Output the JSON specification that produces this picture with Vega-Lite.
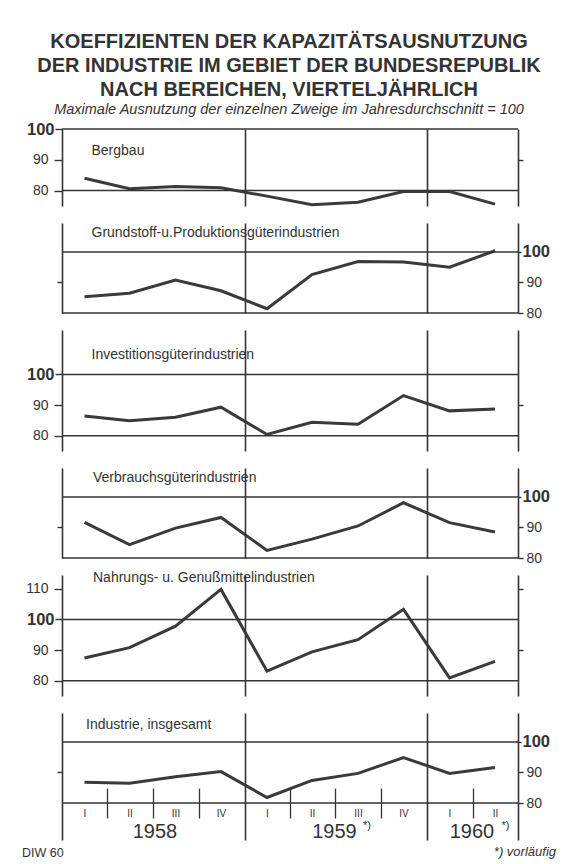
{
  "$schema": "https://vega.github.io/schema/vega-lite/v6.json",
  "background": "white",
  "padding": {"left": 22, "top": 31, "right": 5, "bottom": 2},
  "bounds": "flush",
  "spacing": 17,
  "title": {
    "text": ["KOEFFIZIENTEN DER KAPAZITÄTSAUSNUTZUNG", "DER INDUSTRIE IM GEBIET DER BUNDESREPUBLIK", "NACH BEREICHEN, VIERTELJÄHRLICH"],
    "subtitle": "Maximale Ausnutzung der einzelnen Zweige im Jahresdurchschnitt = 100",
    "anchor": "middle",
    "font": "Liberation Sans",
    "fontSize": 20,
    "fontWeight": "bold",
    "color": "#333333",
    "lineHeight": 24,
    "subtitleFont": "Liberation Sans",
    "subtitleFontStyle": "italic",
    "subtitleFontSize": 14.5,
    "subtitleColor": "#333333",
    "subtitlePadding": 3,
    "offset": 5
  },
  "config": {
    "view": {"stroke": null},
    "axis": {"domain": false, "grid": false, "labelColor": "#333333", "tickColor": "#333333", "labelFont": "Liberation Sans", "tickWidth": 1.4},
    "text": {"font": "Liberation Sans", "fontSize": 14, "color": "#333333", "align": "left", "baseline": "middle"},
    "rule": {"color": "#333333", "strokeWidth": 1.5},
    "line": {"color": "#3a3a3a", "strokeWidth": 3}
  },
  "datasets": {
    "d": [
      {"panel": "Bergbau", "date": "1958-02-15", "value": 84.0},
      {"panel": "Bergbau", "date": "1958-05-16", "value": 80.6},
      {"panel": "Bergbau", "date": "1958-08-16", "value": 81.3},
      {"panel": "Bergbau", "date": "1958-11-15", "value": 80.9},
      {"panel": "Bergbau", "date": "1959-02-15", "value": 78.2},
      {"panel": "Bergbau", "date": "1959-05-16", "value": 75.4},
      {"panel": "Bergbau", "date": "1959-08-16", "value": 76.2},
      {"panel": "Bergbau", "date": "1959-11-15", "value": 79.7},
      {"panel": "Bergbau", "date": "1960-02-15", "value": 79.7},
      {"panel": "Bergbau", "date": "1960-05-16", "value": 75.6},
      {"panel": "Grundstoff", "date": "1958-02-15", "value": 85.3},
      {"panel": "Grundstoff", "date": "1958-05-16", "value": 86.5},
      {"panel": "Grundstoff", "date": "1958-08-16", "value": 90.8},
      {"panel": "Grundstoff", "date": "1958-11-15", "value": 87.3},
      {"panel": "Grundstoff", "date": "1959-02-15", "value": 81.4},
      {"panel": "Grundstoff", "date": "1959-05-16", "value": 92.6},
      {"panel": "Grundstoff", "date": "1959-08-16", "value": 96.9},
      {"panel": "Grundstoff", "date": "1959-11-15", "value": 96.7},
      {"panel": "Grundstoff", "date": "1960-02-15", "value": 95.0},
      {"panel": "Grundstoff", "date": "1960-05-16", "value": 100.4},
      {"panel": "Investition", "date": "1958-02-15", "value": 86.4},
      {"panel": "Investition", "date": "1958-05-16", "value": 84.9},
      {"panel": "Investition", "date": "1958-08-16", "value": 86.0},
      {"panel": "Investition", "date": "1958-11-15", "value": 89.3},
      {"panel": "Investition", "date": "1959-02-15", "value": 80.4},
      {"panel": "Investition", "date": "1959-05-16", "value": 84.4},
      {"panel": "Investition", "date": "1959-08-16", "value": 83.7},
      {"panel": "Investition", "date": "1959-11-15", "value": 93.1},
      {"panel": "Investition", "date": "1960-02-15", "value": 88.1},
      {"panel": "Investition", "date": "1960-05-16", "value": 88.7},
      {"panel": "Verbrauch", "date": "1958-02-15", "value": 91.7},
      {"panel": "Verbrauch", "date": "1958-05-16", "value": 84.4},
      {"panel": "Verbrauch", "date": "1958-08-16", "value": 89.8},
      {"panel": "Verbrauch", "date": "1958-11-15", "value": 93.3},
      {"panel": "Verbrauch", "date": "1959-02-15", "value": 82.5},
      {"panel": "Verbrauch", "date": "1959-05-16", "value": 86.2},
      {"panel": "Verbrauch", "date": "1959-08-16", "value": 90.5},
      {"panel": "Verbrauch", "date": "1959-11-15", "value": 98.1},
      {"panel": "Verbrauch", "date": "1960-02-15", "value": 91.6},
      {"panel": "Verbrauch", "date": "1960-05-16", "value": 88.5},
      {"panel": "Nahrung", "date": "1958-02-15", "value": 87.4},
      {"panel": "Nahrung", "date": "1958-05-16", "value": 90.8},
      {"panel": "Nahrung", "date": "1958-08-16", "value": 97.8},
      {"panel": "Nahrung", "date": "1958-11-15", "value": 109.8},
      {"panel": "Nahrung", "date": "1959-02-15", "value": 83.1},
      {"panel": "Nahrung", "date": "1959-05-16", "value": 89.4},
      {"panel": "Nahrung", "date": "1959-08-16", "value": 93.4},
      {"panel": "Nahrung", "date": "1959-11-15", "value": 103.3},
      {"panel": "Nahrung", "date": "1960-02-15", "value": 80.9},
      {"panel": "Nahrung", "date": "1960-05-16", "value": 86.3},
      {"panel": "Industrie", "date": "1958-02-15", "value": 86.8},
      {"panel": "Industrie", "date": "1958-05-16", "value": 86.5},
      {"panel": "Industrie", "date": "1958-08-16", "value": 88.6},
      {"panel": "Industrie", "date": "1958-11-15", "value": 90.3},
      {"panel": "Industrie", "date": "1959-02-15", "value": 81.8},
      {"panel": "Industrie", "date": "1959-05-16", "value": 87.4},
      {"panel": "Industrie", "date": "1959-08-16", "value": 89.7},
      {"panel": "Industrie", "date": "1959-11-15", "value": 94.9},
      {"panel": "Industrie", "date": "1960-02-15", "value": 89.7},
      {"panel": "Industrie", "date": "1960-05-16", "value": 91.6}
    ]
  },
  "vconcat": [
    {
      "width": 456, "height": 77,
      "resolve": {"axis": {"x": "independent", "y": "independent"}},
      "layer": [
        {
          "data": {"name": "d"},
          "transform": [{"filter": "datum.panel == 'Bergbau'"}],
          "mark": "line",
          "encoding": {
            "x": {"field": "date", "type": "temporal", "scale": {"type": "utc", "domain": [{"year": 1958, "month": 1, "date": 1, "utc": true}, {"year": 1960, "month": 7, "date": 1, "utc": true}]},
                  "axis": {"title": null, "values": [{"year": 1958, "month": 1, "date": 1, "utc": true}, {"year": 1959, "month": 1, "date": 1, "utc": true}, {"year": 1960, "month": 1, "date": 1, "utc": true}, {"year": 1960, "month": 7, "date": 1, "utc": true}], "grid": true, "gridColor": "#333333", "gridWidth": 1.6, "gridOpacity": 1, "ticks": false, "labels": false, "domain": false}},
            "y": {"field": "value", "type": "quantitative", "scale": {"domain": [75, 100], "nice": false, "zero": false},
                  "axis": {"title": null, "orient": "left", "values": [80, 90], "labelFontSize": 14, "tickSize": 8, "labelPadding": 6}}
          }
        },
        {"data": {"values": [{}]}, "mark": "rule", "encoding": {"y": {"datum": 100, "axis": {"title": null, "orient": "left", "values": [100], "labelFontSize": 16.5, "labelFontWeight": "bold", "tickSize": 7, "labelPadding": 1}}}},
        {"data": {"values": [{}]}, "mark": "rule", "encoding": {"y": {"datum": 80, "axis": {"title": null, "orient": "right", "values": [90], "labels": false, "tickSize": 5}}}},
        {"data": {"values": [{}]}, "mark": {"type": "text", "text": "Bergbau"}, "encoding": {"x": {"datum": {"year": 1958, "month": 3, "date": 1, "utc": true}, "type": "temporal", "axis": null}, "y": {"datum": 92.9, "axis": null}}}
      ]
    },
    {
      "width": 456, "height": 90,
      "resolve": {"axis": {"x": "independent", "y": "independent"}},
      "layer": [
        {
          "data": {"name": "d"},
          "transform": [{"filter": "datum.panel == 'Grundstoff'"}],
          "mark": "line",
          "encoding": {
            "x": {"field": "date", "type": "temporal", "scale": {"type": "utc", "domain": [{"year": 1958, "month": 1, "date": 1, "utc": true}, {"year": 1960, "month": 7, "date": 1, "utc": true}]},
                  "axis": {"title": null, "values": [{"year": 1958, "month": 1, "date": 1, "utc": true}, {"year": 1959, "month": 1, "date": 1, "utc": true}, {"year": 1960, "month": 1, "date": 1, "utc": true}, {"year": 1960, "month": 7, "date": 1, "utc": true}], "grid": true, "gridColor": "#333333", "gridWidth": 1.6, "gridOpacity": 1, "ticks": false, "labels": false, "domain": false}},
            "y": {"field": "value", "type": "quantitative", "scale": {"domain": [80, 109.5], "nice": false, "zero": false},
                  "axis": {"title": null, "orient": "right", "values": [80, 90], "labelFontSize": 14, "tickSize": 5, "labelPadding": 3}}
          }
        },
        {"data": {"values": [{}]}, "mark": "rule", "encoding": {"y": {"datum": 100, "axis": {"title": null, "orient": "right", "values": [100], "labelFontSize": 16.5, "labelFontWeight": "bold", "tickSize": 3, "labelPadding": 1}}}},
        {"data": {"values": [{}]}, "mark": "rule", "encoding": {"y": {"datum": 80, "axis": {"title": null, "orient": "left", "values": [90], "labels": false, "tickSize": 5}}}},
        {"data": {"values": [{}]}, "mark": {"type": "text", "text": "Grundstoff-u.Produktionsgüterindustrien"}, "encoding": {"x": {"datum": {"year": 1958, "month": 3, "date": 1, "utc": true}, "type": "temporal", "axis": null}, "y": {"datum": 106.2, "axis": null}}}
      ]
    },
    {
      "width": 456, "height": 121,
      "resolve": {"axis": {"x": "independent", "y": "independent"}},
      "layer": [
        {
          "data": {"name": "d"},
          "transform": [{"filter": "datum.panel == 'Investition'"}],
          "mark": "line",
          "encoding": {
            "x": {"field": "date", "type": "temporal", "scale": {"type": "utc", "domain": [{"year": 1958, "month": 1, "date": 1, "utc": true}, {"year": 1960, "month": 7, "date": 1, "utc": true}]},
                  "axis": {"title": null, "values": [{"year": 1958, "month": 1, "date": 1, "utc": true}, {"year": 1959, "month": 1, "date": 1, "utc": true}, {"year": 1960, "month": 1, "date": 1, "utc": true}, {"year": 1960, "month": 7, "date": 1, "utc": true}], "grid": true, "gridColor": "#333333", "gridWidth": 1.6, "gridOpacity": 1, "ticks": false, "labels": false, "domain": false}},
            "y": {"field": "value", "type": "quantitative", "scale": {"domain": [75, 114.5], "nice": false, "zero": false},
                  "axis": {"title": null, "orient": "left", "values": [80, 90], "labelFontSize": 14, "tickSize": 8, "labelPadding": 6}}
          }
        },
        {"data": {"values": [{}]}, "mark": "rule", "encoding": {"y": {"datum": 100, "axis": {"title": null, "orient": "left", "values": [100], "labelFontSize": 16.5, "labelFontWeight": "bold", "tickSize": 7, "labelPadding": 1}}}},
        {"data": {"values": [{}]}, "mark": "rule", "encoding": {"y": {"datum": 80, "axis": {"title": null, "orient": "right", "values": [90], "labels": false, "tickSize": 5}}}},
        {"data": {"values": [{}]}, "mark": {"type": "text", "text": "Investitionsgüterindustrien"}, "encoding": {"x": {"datum": {"year": 1958, "month": 3, "date": 1, "utc": true}, "type": "temporal", "axis": null}, "y": {"datum": 106.2, "axis": null}}}
      ]
    },
    {
      "width": 456, "height": 90,
      "resolve": {"axis": {"x": "independent", "y": "independent"}},
      "layer": [
        {
          "data": {"name": "d"},
          "transform": [{"filter": "datum.panel == 'Verbrauch'"}],
          "mark": "line",
          "encoding": {
            "x": {"field": "date", "type": "temporal", "scale": {"type": "utc", "domain": [{"year": 1958, "month": 1, "date": 1, "utc": true}, {"year": 1960, "month": 7, "date": 1, "utc": true}]},
                  "axis": {"title": null, "values": [{"year": 1958, "month": 1, "date": 1, "utc": true}, {"year": 1959, "month": 1, "date": 1, "utc": true}, {"year": 1960, "month": 1, "date": 1, "utc": true}, {"year": 1960, "month": 7, "date": 1, "utc": true}], "grid": true, "gridColor": "#333333", "gridWidth": 1.6, "gridOpacity": 1, "ticks": false, "labels": false, "domain": false}},
            "y": {"field": "value", "type": "quantitative", "scale": {"domain": [80, 109.5], "nice": false, "zero": false},
                  "axis": {"title": null, "orient": "right", "values": [80, 90], "labelFontSize": 14, "tickSize": 5, "labelPadding": 3}}
          }
        },
        {"data": {"values": [{}]}, "mark": "rule", "encoding": {"y": {"datum": 100, "axis": {"title": null, "orient": "right", "values": [100], "labelFontSize": 16.5, "labelFontWeight": "bold", "tickSize": 3, "labelPadding": 1}}}},
        {"data": {"values": [{}]}, "mark": "rule", "encoding": {"y": {"datum": 80, "axis": {"title": null, "orient": "left", "values": [90], "labels": false, "tickSize": 5}}}},
        {"data": {"values": [{}]}, "mark": {"type": "text", "text": "Verbrauchsgüterindustrien"}, "encoding": {"x": {"datum": {"year": 1958, "month": 3, "date": 4, "utc": true}, "type": "temporal", "axis": null}, "y": {"datum": 106.2, "axis": null}}}
      ]
    },
    {
      "width": 456, "height": 121,
      "resolve": {"axis": {"x": "independent", "y": "independent"}},
      "layer": [
        {
          "data": {"name": "d"},
          "transform": [{"filter": "datum.panel == 'Nahrung'"}],
          "mark": "line",
          "encoding": {
            "x": {"field": "date", "type": "temporal", "scale": {"type": "utc", "domain": [{"year": 1958, "month": 1, "date": 1, "utc": true}, {"year": 1960, "month": 7, "date": 1, "utc": true}]},
                  "axis": {"title": null, "values": [{"year": 1958, "month": 1, "date": 1, "utc": true}, {"year": 1959, "month": 1, "date": 1, "utc": true}, {"year": 1960, "month": 1, "date": 1, "utc": true}, {"year": 1960, "month": 7, "date": 1, "utc": true}], "grid": true, "gridColor": "#333333", "gridWidth": 1.6, "gridOpacity": 1, "ticks": false, "labels": false, "domain": false}},
            "y": {"field": "value", "type": "quantitative", "scale": {"domain": [75, 114.5], "nice": false, "zero": false},
                  "axis": {"title": null, "orient": "left", "values": [80, 90, 110], "labelFontSize": 14, "tickSize": 8, "labelPadding": 6}}
          }
        },
        {"data": {"values": [{}]}, "mark": "rule", "encoding": {"y": {"datum": 100, "axis": {"title": null, "orient": "left", "values": [100], "labelFontSize": 16.5, "labelFontWeight": "bold", "tickSize": 7, "labelPadding": 1}}}},
        {"data": {"values": [{}]}, "mark": "rule", "encoding": {"y": {"datum": 80, "axis": {"title": null, "orient": "right", "values": [90, 110], "labels": false, "tickSize": 5}}}},
        {"data": {"values": [{}]}, "mark": {"type": "text", "text": "Nahrungs- u. Genußmittelindustrien"}, "encoding": {"x": {"datum": {"year": 1958, "month": 3, "date": 4, "utc": true}, "type": "temporal", "axis": null}, "y": {"datum": 113.6, "axis": null}}}
      ]
    },
    {
      "width": 456, "height": 90,
      "resolve": {"axis": {"x": "independent", "y": "independent"}},
      "layer": [
        {
          "data": {"name": "d"},
          "transform": [{"filter": "datum.panel == 'Industrie'"}],
          "mark": "line",
          "encoding": {
            "x": {"field": "date", "type": "temporal", "scale": {"type": "utc", "domain": [{"year": 1958, "month": 1, "date": 1, "utc": true}, {"year": 1960, "month": 7, "date": 1, "utc": true}]},
                  "axis": {"title": null, "orient": "bottom", "values": [{"year": 1958, "month": 1, "date": 1, "utc": true}, {"year": 1959, "month": 1, "date": 1, "utc": true}, {"year": 1960, "month": 1, "date": 1, "utc": true}, {"year": 1960, "month": 7, "date": 1, "utc": true}], "grid": true, "gridColor": "#333333", "gridWidth": 1.6, "gridOpacity": 1, "ticks": true, "tickSize": 37, "tickWidth": 1.6, "labels": false, "domain": false}},
            "y": {"field": "value", "type": "quantitative", "scale": {"domain": [80, 109.5], "nice": false, "zero": false},
                  "axis": {"title": null, "orient": "right", "values": [80, 90], "labelFontSize": 14, "tickSize": 5, "labelPadding": 3}}
          }
        },
        {"data": {"values": [{}]}, "mark": "rule", "encoding": {"y": {"datum": 100, "axis": {"title": null, "orient": "right", "values": [100], "labelFontSize": 16.5, "labelFontWeight": "bold", "tickSize": 3, "labelPadding": 1}}}},
        {"data": {"values": [{}]}, "mark": "rule", "encoding": {"y": {"datum": 80, "axis": {"title": null, "orient": "left", "values": [90], "labels": false, "tickSize": 5}}}},
        {"data": {"values": [{}]}, "mark": {"type": "text", "text": "Industrie, insgesamt"},
         "encoding": {
           "x": {"datum": {"year": 1958, "month": 2, "date": 18, "utc": true}, "type": "temporal",
                 "axis": {"title": null, "orient": "bottom", "values": [{"year": 1958, "month": 2, "date": 15, "utc": true}, {"year": 1958, "month": 5, "date": 16, "utc": true}, {"year": 1958, "month": 8, "date": 16, "utc": true}, {"year": 1958, "month": 11, "date": 15, "utc": true}, {"year": 1959, "month": 2, "date": 15, "utc": true}, {"year": 1959, "month": 5, "date": 16, "utc": true}, {"year": 1959, "month": 8, "date": 16, "utc": true}, {"year": 1959, "month": 11, "date": 15, "utc": true}, {"year": 1960, "month": 2, "date": 15, "utc": true}, {"year": 1960, "month": 5, "date": 16, "utc": true}],
                          "ticks": false, "domain": false, "labelExpr": "['I','II','III','IV'][utcquarter(datum.value)-1]", "labelFontSize": 10, "labelPadding": 5, "labelFlush": false, "labelOverlap": false}},
           "y": {"datum": 105.7, "axis": null}}},
        {"data": {"values": [{}]}, "mark": {"type": "text", "text": "DIW 60", "fontSize": 12.5},
         "encoding": {
           "x": {"datum": {"year": 1957, "month": 10, "date": 13, "utc": true}, "type": "temporal",
                 "axis": {"title": null, "orient": "bottom", "values": [{"year": 1958, "month": 7, "date": 5, "utc": true}, {"year": 1959, "month": 6, "date": 29, "utc": true}, {"year": 1960, "month": 3, "date": 30, "utc": true}],
                          "ticks": false, "domain": false, "labelExpr": "utcyear(datum.value) + ''", "labelFontSize": 20, "labelPadding": 18, "labelFlush": false, "labelOverlap": false}},
           "y": {"datum": 63.7, "axis": null}}},
        {"data": {"values": [{}]}, "mark": {"type": "text", "text": ""},
         "encoding": {
           "x": {"datum": {"year": 1959, "month": 1, "date": 1, "utc": true}, "type": "temporal",
                 "axis": {"title": null, "orient": "bottom", "values": [{"year": 1959, "month": 9, "date": 2, "utc": true}, {"year": 1960, "month": 6, "date": 5, "utc": true}],
                          "ticks": false, "domain": false, "labelExpr": "'*)'", "labelFontSize": 11, "labelPadding": 16, "labelFlush": false, "labelOverlap": false}},
           "y": {"datum": 90, "axis": null}}},
        {"data": {"values": [{}]}, "mark": {"type": "text", "text": "*) vorläufig", "fontSize": 13, "fontStyle": "italic", "align": "right"},
         "encoding": {
           "x": {"datum": {"year": 1960, "month": 9, "date": 15, "utc": true}, "type": "temporal",
                 "axis": {"title": null, "orient": "bottom", "values": [{"year": 1958, "month": 4, "date": 1, "utc": true}, {"year": 1958, "month": 7, "date": 1, "utc": true}, {"year": 1958, "month": 10, "date": 1, "utc": true}, {"year": 1959, "month": 4, "date": 1, "utc": true}, {"year": 1959, "month": 7, "date": 1, "utc": true}, {"year": 1959, "month": 10, "date": 1, "utc": true}, {"year": 1960, "month": 4, "date": 1, "utc": true}],
                          "offset": -15, "tickSize": 30, "tickWidth": 1.3, "labels": false, "domain": false}},
           "y": {"datum": 64, "axis": null}}}
      ]
    }
  ]
}
